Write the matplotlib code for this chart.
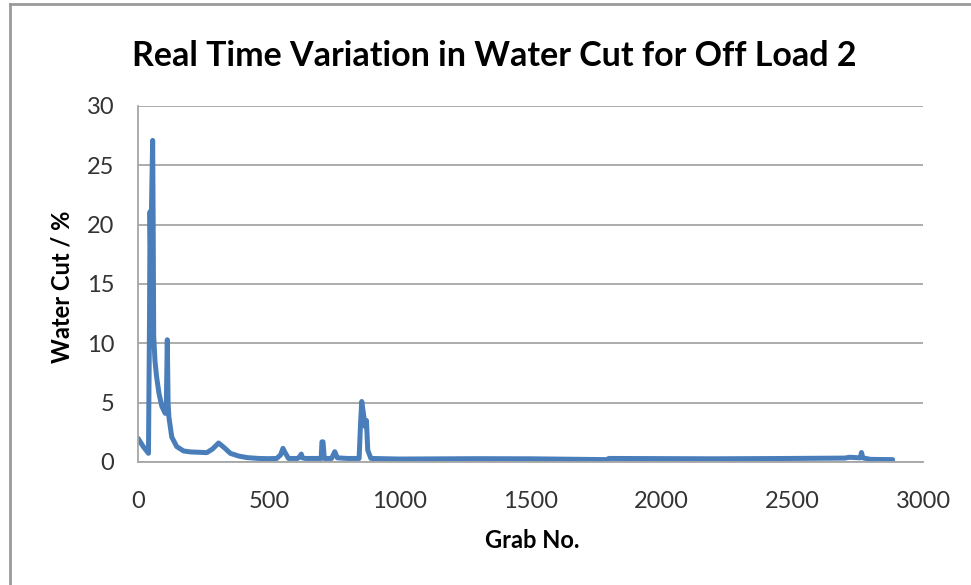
import numpy as np
import matplotlib.pyplot as plt
from matplotlib.lines import Line2D

# values
grab = [0, 20, 40, 44, 46, 49, 52, 56, 58, 60, 65, 71, 80, 91, 104, 108,
        112, 115, 118, 129, 148, 174, 200, 263, 285, 308, 330, 353, 385,
        417, 460, 500, 530, 545, 554, 562, 575, 610, 620, 624, 628, 640,
        700, 703, 707, 712, 740, 752, 762, 800, 845, 850, 855, 862, 868,
        873, 878, 890, 1000, 1300, 1500, 1790, 1800, 2200, 2500, 2700,
        2720, 2760, 2765, 2770, 2800, 2884]
water_cut = [2.0, 1.3, 0.73, 12.0, 21.1, 16.0, 22.0, 27.1, 20.0, 10.6, 8.5,
             7.2, 5.8, 4.7, 4.1, 4.5, 10.3, 5.0, 3.8, 2.1, 1.3, 0.93, 0.85,
             0.79, 1.1, 1.6, 1.2, 0.73, 0.5, 0.37, 0.3, 0.28, 0.3, 0.6, 1.15,
             0.8, 0.3, 0.3, 0.5, 0.67, 0.35, 0.3, 0.3, 1.7, 1.7, 0.3, 0.3,
             0.87, 0.35, 0.3, 0.3, 3.0, 5.1, 4.0, 3.0, 3.5, 1.0, 0.3, 0.25,
             0.28, 0.27, 0.2, 0.3, 0.27, 0.3, 0.33, 0.4, 0.35, 0.8, 0.35,
             0.22, 0.2]
x_ticks = [0, 500, 1000, 1500, 2000, 2500, 3000]
y_ticks = [0, 5, 10, 15, 20, 25, 30]

plt.rcParams['font.family'] = ['Lato', 'DejaVu Sans']

fig = plt.figure(figsize=(9.71, 5.85), dpi=100)
ax = fig.add_axes([138 / 971, 1 - 462 / 585, (923 - 138) / 971, 356 / 585])

ax.plot(grab, water_cut, color='#4a7ebb', lw=3.6, solid_joinstyle='round',
        solid_capstyle='round')

ax.set_xlim(0, 3000)
ax.set_ylim(0, 30)
ax.set_xticks(x_ticks)
ax.set_yticks(y_ticks)
ax.tick_params(axis='both', length=0, labelsize=17, colors='#333333')
ax.tick_params(axis='x', pad=21)
ax.tick_params(axis='y', pad=17)
ax.grid(axis='y', color='#a6a6a6', lw=1.3)
ax.set_axisbelow(True)
for side in ['top', 'right']:
    ax.spines[side].set_visible(False)
for side in ['left', 'bottom']:
    ax.spines[side].set_color('#a6a6a6')
    ax.spines[side].set_linewidth(1.3)

fig.text(494 / 971, 1 - 56 / 585, 'Real Time Variation in Water Cut for Off Load 2',
         ha='center', va='center', fontsize=24.5, fontweight='bold')
fig.text(532 / 971, 1 - 541 / 585, 'Grab No.', ha='center', va='center',
         fontsize=17, fontweight='bold')
fig.text(62 / 971, 1 - 287 / 585, 'Water Cut / %', ha='center', va='center',
         rotation=90, fontsize=17, fontweight='bold')

# outer chart border (top and left edges are visible in the reference)
fig.add_artist(Line2D([10 / 971, 1], [1 - 4 / 585, 1 - 4 / 585],
                      color='#9a9a9a', lw=2, transform=fig.transFigure))
fig.add_artist(Line2D([10 / 971, 10 / 971], [0, 1 - 4 / 585],
                      color='#9a9a9a', lw=2, transform=fig.transFigure))

fig.savefig('out.png', dpi=100)
